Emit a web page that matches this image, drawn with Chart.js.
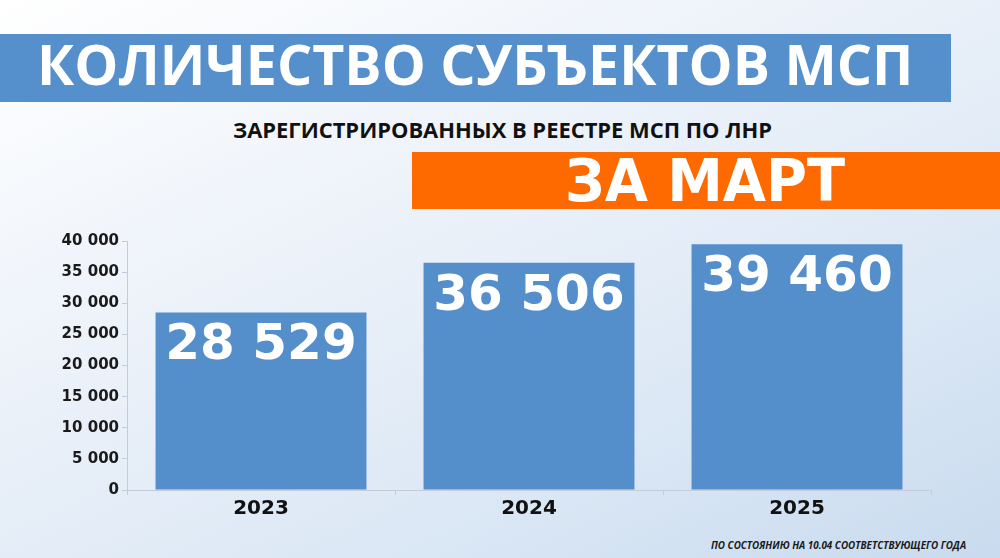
<!DOCTYPE html>
<html lang="ru">
<head>
<meta charset="utf-8">
<script src="https://cdn.jsdelivr.net/npm/chart.js@4"></script>
<style>
  html, body { margin: 0; padding: 0; }
  body {
    width: 1000px; height: 558px; overflow: hidden; position: relative;
    background: linear-gradient(155deg, #ffffff 0%, #eef3fa 35%, #dce8f5 70%, #c9dbef 100%);
  }
  .band { position: absolute; }
  .txt { position: absolute; white-space: nowrap; transform-origin: 0 0; }
  #chart { position: absolute; left: 0; top: 0; }
</style>
</head>
<body>
<div class="band" style="left:0;top:34px;width:951px;height:68px;background:#5590cd;"></div>
<div class="band" style="left:412px;top:152px;width:588px;height:57px;background:#ff6a00;"></div>

<div class="txt" id="title">КОЛИЧЕСТВО СУБЪЕКТОВ МСП</div>
<div class="txt" id="subtitle">ЗАРЕГИСТРИРОВАННЫХ В РЕЕСТРЕ МСП ПО ЛНР</div>
<div class="txt" id="month">ЗА МАРТ</div>
<div class="txt" id="note">ПО СОСТОЯНИЮ НА 10.04 СООТВЕТСТВУЮЩЕГО ГОДА</div>

<canvas id="chart" width="1000" height="558"></canvas>

<script>
// data
const years = ['2023', '2024', '2025'];
const subjects = [28529, 36506, 39460];
const yMin = 0;
const yMax = 40000;
const yStep = 5000;

const fmt = v => String(v).replace(/\B(?=(\d{3})+(?!\d))/g, ' ');

// fit a text block into a box: left/right of ink, cap top and baseline
const measureCtx = document.createElement('canvas').getContext('2d');
function fitText(id, family, weight, style, color, box) {
  const el = document.getElementById(id);
  const probe = 100;
  measureCtx.font = `${style} ${weight} ${probe}px ${family}`;
  const capH = measureCtx.measureText('Н').actualBoundingBoxAscent / probe;
  const size = (box.base - box.capTop) / capH;
  const font = `${style} ${weight} ${size}px ${family}`;
  measureCtx.font = font;
  const m = measureCtx.measureText(el.textContent);
  const inkW = m.actualBoundingBoxRight + m.actualBoundingBoxLeft;
  const sx = (box.right - box.left) / inkW;
  const asc = m.fontBoundingBoxAscent, desc = m.fontBoundingBoxDescent;
  const top = box.base - ((size - (asc + desc)) / 2 + asc);
  el.style.font = font;
  el.style.lineHeight = size + 'px';
  el.style.color = color;
  el.style.top = top + 'px';
  el.style.left = (box.left + m.actualBoundingBoxLeft * sx) + 'px';
  el.style.transform = `scaleX(${sx})`;
}

fitText('title', '"Open Sans"', 700, 'normal', '#ffffff', { left: 41, right: 909, capTop: 45, base: 85 });
fitText('subtitle', '"Open Sans"', 700, 'normal', '#111111', { left: 233, right: 772, capTop: 123, base: 138 });
fitText('month', '"DejaVu Sans"', 700, 'normal', '#ffffff', { left: 568, right: 845, capTop: 159, base: 202 });
fitText('note', '"Open Sans"', 700, 'italic', '#1a1a1a', { left: 711, right: 966, capTop: 542, base: 549 });

// value labels inside the top of each bar
const valueLabels = {
  id: 'valueLabels',
  afterDatasetsDraw(chart) {
    const ctx = chart.ctx;
    const meta = chart.getDatasetMeta(0);
    ctx.save();
    ctx.fillStyle = '#ffffff';
    ctx.font = 'bold 50px "DejaVu Sans"';
    ctx.textAlign = 'center';
    ctx.textBaseline = 'alphabetic';
    meta.data.forEach((bar, i) => {
      ctx.fillText(fmt(subjects[i]), bar.x, bar.y + 47);
    });
    ctx.restore();
  }
};

const axisColor = '#c3ccd8';

new Chart(document.getElementById('chart'), {
  type: 'bar',
  data: {
    labels: years,
    datasets: [{
      data: subjects,
      backgroundColor: '#548ecb',
      borderWidth: 0,
      categoryPercentage: 1,
      barPercentage: 0.787
    }]
  },
  options: {
    responsive: false,
    animation: false,
    devicePixelRatio: 1,
    layout: { padding: { left: 0, right: 69, top: 241, bottom: 28 } },
    plugins: {
      legend: { display: false },
      tooltip: { enabled: false }
    },
    scales: {
      y: {
        min: yMin,
        max: yMax,
        afterFit: s => { s.width = 127; },
        ticks: {
          stepSize: yStep,
          padding: 3,
          color: '#1a1a1a',
          font: { family: '"DejaVu Sans"', weight: 'bold', size: 15 },
          callback: v => fmt(v)
        },
        grid: { drawOnChartArea: false, tickLength: 5, color: axisColor },
        border: { color: axisColor }
      },
      x: {
        afterFit: s => { s.height = 40; },
        ticks: {
          padding: 2,
          color: '#111111',
          font: { family: '"DejaVu Sans"', weight: 'bold', size: 20 }
        },
        grid: { drawOnChartArea: false, tickLength: 5, color: axisColor },
        border: { color: axisColor }
      }
    }
  },
  plugins: [valueLabels]
});
</script>
</body>
</html>
